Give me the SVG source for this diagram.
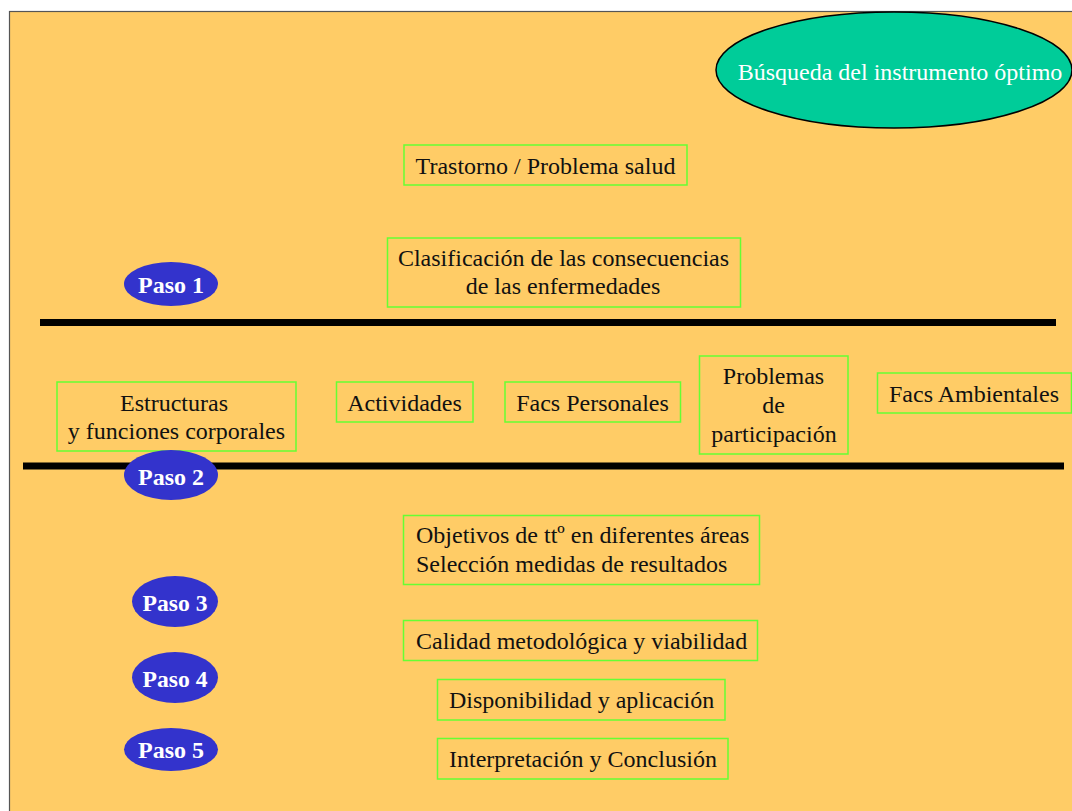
<svg xmlns="http://www.w3.org/2000/svg" width="1072" height="811" viewBox="0 0 1072 811">
<style>
.bg{fill:#FFCC66;stroke:#555555;stroke-width:1.2}
.box{fill:none;stroke:#66FF33;stroke-width:1.5}
.t{font-family:"Liberation Serif","Times New Roman",serif;font-size:24px;fill:#111111}
.tc{text-anchor:middle}
.paso{fill:#3333CC}
.pt{font-family:"Liberation Serif","Times New Roman",serif;font-size:24px;font-weight:bold;fill:#FFFFFF;text-anchor:middle}
.sep{stroke:#000000;stroke-width:7}
</style>
<rect x="0" y="0" width="1072" height="811" fill="#FFFFFF"/>
<rect class="bg" x="9.5" y="11.5" width="1070" height="810"/>
<g id="connectors">
<line class="sep" x1="40" y1="322.5" x2="1056" y2="322.5"/>
<line class="sep" x1="23" y1="466" x2="1064" y2="466"/>
</g>
<g id="busqueda">
<ellipse cx="894" cy="70" rx="178" ry="58" fill="#00CC99" stroke="#000000" stroke-width="1.5"/>
<text class="t tc" x="900" y="80" fill="#FFFFFF" style="fill:#FFFFFF">Búsqueda del instrumento óptimo</text>
</g>
<g id="trastorno">
<rect class="box" x="404" y="145" width="283" height="40"/>
<text class="t tc" x="545.5" y="174">Trastorno / Problema salud</text>
</g>
<g id="clasificacion">
<rect class="box" x="387.5" y="238" width="353" height="69"/>
<text class="t tc" x="563.5" y="266">Clasificación de las consecuencias</text>
<text class="t tc" x="563" y="293.5">de las enfermedades</text>
</g>
<g id="paso1">
<ellipse class="paso" cx="171" cy="284" rx="47" ry="22"/>
<text class="pt" x="171" y="293">Paso 1</text>
</g>
<g id="estructuras">
<rect class="box" x="57" y="382" width="239" height="69"/>
<text class="t tc" x="174" y="411">Estructuras</text>
<text class="t tc" x="176.5" y="439">y funciones corporales</text>
</g>
<g id="actividades">
<rect class="box" x="336.5" y="382" width="136.5" height="40"/>
<text class="t tc" x="404.5" y="411">Actividades</text>
</g>
<g id="facs-personales">
<rect class="box" x="505" y="382" width="175.5" height="40"/>
<text class="t tc" x="592.5" y="411">Facs Personales</text>
</g>
<g id="problemas">
<rect class="box" x="699.5" y="356" width="148.5" height="98"/>
<text class="t tc" x="773.5" y="384">Problemas</text>
<text class="t tc" x="773.5" y="413">de</text>
<text class="t tc" x="774" y="442">participación</text>
</g>
<g id="facs-ambientales">
<rect class="box" x="877.5" y="373" width="194" height="40"/>
<text class="t tc" x="974" y="402">Facs Ambientales</text>
</g>
<g id="paso2">
<ellipse class="paso" cx="171" cy="475" rx="47" ry="25"/>
<text class="pt" x="171" y="485">Paso 2</text>
</g>
<g id="objetivos">
<rect class="box" x="403.5" y="515.5" width="356" height="69"/>
<text class="t" x="416" y="543">Objetivos de ttº en diferentes áreas</text>
<text class="t" x="416" y="572">Selección medidas de resultados</text>
</g>
<g id="paso3">
<ellipse class="paso" cx="175" cy="601.5" rx="43" ry="25.5"/>
<text class="pt" x="175" y="611" textLength="65" lengthAdjust="spacingAndGlyphs">Paso 3</text>
</g>
<g id="calidad">
<rect class="box" x="403.5" y="620.5" width="354" height="40"/>
<text class="t" x="416" y="648.5">Calidad metodológica y viabilidad</text>
</g>
<g id="paso4">
<ellipse class="paso" cx="175" cy="677.5" rx="43" ry="25.5"/>
<text class="pt" x="175" y="687" textLength="65" lengthAdjust="spacingAndGlyphs">Paso 4</text>
</g>
<g id="disponibilidad">
<rect class="box" x="437.5" y="679.5" width="287.5" height="40.5"/>
<text class="t" x="449" y="707.5">Disponibilidad y aplicación</text>
</g>
<g id="paso5">
<ellipse class="paso" cx="171" cy="749.5" rx="47" ry="21.5"/>
<text class="pt" x="171" y="758">Paso 5</text>
</g>
<g id="interpretacion">
<rect class="box" x="437.5" y="738.5" width="290.5" height="40.5"/>
<text class="t" x="449" y="767">Interpretación y Conclusión</text>
</g>
</svg>
